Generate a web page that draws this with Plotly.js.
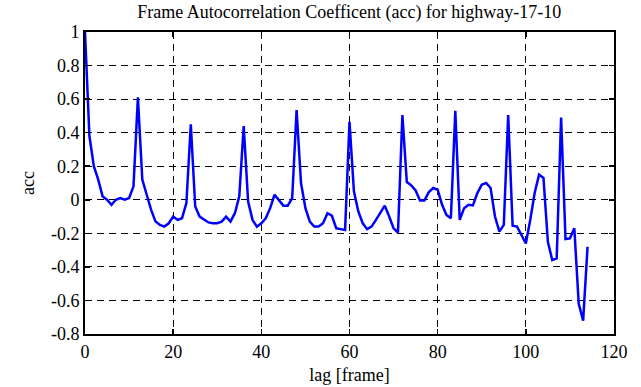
<!DOCTYPE html>
<html>
<head>
<meta charset="utf-8">
<script src="https://cdn.plot.ly/plotly-3.0.1.min.js"></script>
<style>html,body{margin:0;padding:0;background:#fff;}#chart{width:641px;height:387px;}</style>
</head>
<body>
<div id="chart"></div>
<script>
// lag values 0..114
const acc = [
  1.0, 0.38, 0.2, 0.12, 0.02, 0.0, -0.03, 0.0, 0.01, 0.0,
  0.01, 0.08, 0.61, 0.12, 0.03, -0.06, -0.13, -0.15, -0.16, -0.14,
  -0.1, -0.12, -0.11, -0.02, 0.45, -0.04, -0.1, -0.12, -0.135, -0.14,
  -0.14, -0.13, -0.1, -0.13, -0.08, 0.02, 0.44, -0.01, -0.12, -0.16,
  -0.14, -0.11, -0.05, 0.03, 0.0, -0.035, -0.035, 0.01, 0.535, 0.1,
  -0.05, -0.13, -0.16, -0.16, -0.14, -0.08, -0.095, -0.17, -0.175, -0.18,
  0.465, 0.05, -0.07, -0.14, -0.175, -0.16, -0.12, -0.075, -0.035, -0.1,
  -0.17, -0.195, 0.505, 0.106, 0.086, 0.056, -0.004, -0.004, 0.046, 0.07,
  0.06, -0.03, -0.09, -0.11, 0.53, -0.12, -0.05, -0.03, -0.034, 0.04,
  0.09, 0.1, 0.07, -0.1, -0.19, -0.15, 0.505, -0.154, -0.16, -0.21,
  -0.26, -0.12, 0.04, 0.15, 0.13, -0.25, -0.36, -0.35, 0.49, -0.234,
  -0.23, -0.17, -0.62, -0.72, -0.28
];
const lags = acc.map((_, i) => i);
const xTickVals = [0, 20, 40, 60, 80, 100, 120];
const xTickText = ["0", "20", "40", "60", "80", "100", "120"];
const yTickVals = [-0.8, -0.6, -0.4, -0.2, 0, 0.2, 0.4, 0.6, 0.8, 1];
const yTickText = ["-0.8", "-0.6", "-0.4", "-0.2", "0", "0.2", "0.4", "0.6", "0.8", "1"];

const font = {family: "Liberation Serif, Times New Roman, serif", size: 18, color: "#000"};
const axisCommon = {
  showline: true, linecolor: "#000", linewidth: 2, mirror: "ticks",
  ticks: "inside", ticklen: 5, tickwidth: 1.5, tickcolor: "#000",
  showgrid: true, gridcolor: "#000", gridwidth: 1, griddash: "7px,5px",
  zeroline: false, tickfont: font
};
Plotly.newPlot("chart", [{
  x: lags, y: acc, type: "scatter", mode: "lines",
  line: {color: "#0000ff", width: 2.5}, hoverinfo: "skip"
}], {
  width: 641, height: 387,
  margin: {l: 85, r: 27, t: 32, b: 53},
  paper_bgcolor: "#fff", plot_bgcolor: "#fff",
  showlegend: false, font: font,
  title: {text: "Frame Autocorrelation Coefficent (acc) for highway-17-10", font: font, x: 0.545, xanchor: "center", y: 0.97, yanchor: "middle"},
  xaxis: Object.assign({}, axisCommon, {range: [0, 120], tickvals: xTickVals, ticktext: xTickText,
    title: {text: "lag [frame]", font: font, standoff: 8}}),
  yaxis: Object.assign({}, axisCommon, {range: [-0.8, 1], tickvals: yTickVals, ticktext: yTickText,
    title: {text: "acc", font: font, standoff: 12}})
}, {staticPlot: true});
</script>
</body>
</html>
